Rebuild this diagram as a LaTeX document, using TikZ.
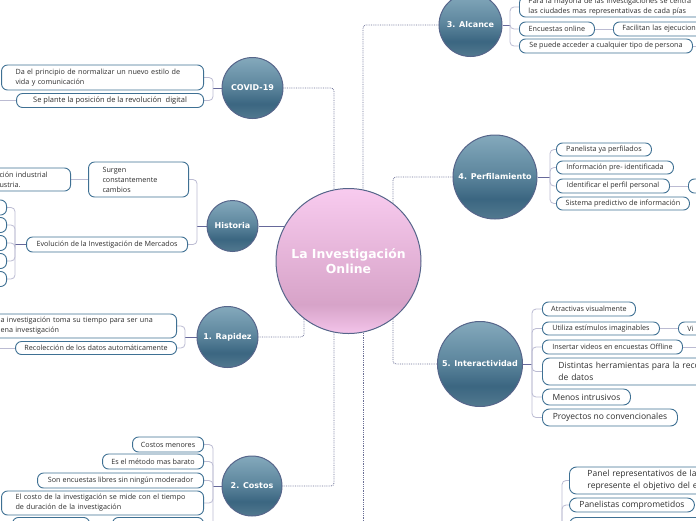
\documentclass[tikz,border=0pt]{standalone}
\usepackage{fontspec}
\setmainfont{Open Sans}
\newfontfamily\topicfont{DejaVu Sans}
\usetikzlibrary{backgrounds}
\definecolor{boxblue}{HTML}{3E7093}
\definecolor{txt}{HTML}{2E2E2E}
\definecolor{stemc}{HTML}{66689A}
\definecolor{branchc}{HTML}{BBBBD2}
\definecolor{dotc}{HTML}{6B7096}
\definecolor{tborder}{HTML}{56658A}
\definecolor{ttop}{HTML}{84A9BC}
\definecolor{tmid}{HTML}{5E879E}
\definecolor{tdark}{HTML}{3B6681}
\definecolor{tbot}{HTML}{52798F}
\definecolor{ctop}{HTML}{F8CBEF}
\definecolor{cdark}{HTML}{D7A3C8}
\definecolor{cbot}{HTML}{F4C4EA}
\pgfdeclareverticalshading{topicshade}{100bp}{color(0bp)=(tbot); color(25bp)=(tbot); color(37bp)=(tdark); color(52bp)=(tmid); color(75bp)=(ttop); color(100bp)=(ttop)}
\pgfdeclareverticalshading{centershade}{100bp}{color(0bp)=(cbot); color(25bp)=(cbot); color(35bp)=(cdark); color(75bp)=(ctop); color(100bp)=(ctop)}
\begin{document}
\begin{tikzpicture}[x=1pt,y=-1pt,
  leaf/.style={draw=boxblue, fill=white, rounded corners=6, line width=0.9, text=txt,
    font=\fontsize{7.2}{10}\selectfont, inner xsep=2, inner ysep=1, minimum height=14},
  bigleaf/.style={leaf, font=\fontsize{8.5}{12}\selectfont, rounded corners=7},
  mleaf/.style={leaf, align=left},
  topic/.style={circle, draw=tborder, line width=1, shading=topicshade, text=white,
    font=\topicfont\bfseries\fontsize{8}{9.5}\selectfont, inner sep=0},
  centre/.style={circle, draw=tborder, line width=1, shading=centershade, text=white,
    font=\topicfont\bfseries\fontsize{12.4}{14.5}\selectfont, align=center, inner sep=0},
  stem/.style={draw=stemc, line width=0.8},
  branch/.style={draw=branchc, line width=0.8, rounded corners=4},
  dotline/.style={draw=dotc, line width=0.8, densely dotted, rounded corners=3}]
\useasboundingbox (0,0) rectangle (696,520);

% central and topic nodes
\node[centre, minimum size=145] (center) at (348.5,261) {La Investigación\\Online};
\node[topic, minimum size=61] (covid) at (252.5,88) {COVID-19};
\node[topic, minimum size=51] (hist) at (232.5,226) {Historia};
\node[topic, minimum size=61] (rap) at (227.5,337) {1. Rapidez};
\node[topic, minimum size=60] (cost) at (252,486) {2. Costos};
\node[topic, minimum size=63] (alc) at (470.5,25) {3. Alcance};
\node[topic, minimum size=84] (perf) at (495,177) {4. Perfilamiento};
\node[topic, minimum size=85] (inter) at (480,364) {5. Interactividad};

% COVID-19
\node[mleaf, anchor=east, inner xsep=14, text width=174, minimum height=25] (cv1) at (204,77.5)
  {Da el principio de normalizar un nuevo estilo de\\vida y comunicación};
\node[leaf, anchor=east, minimum width=187, font=\fontsize{7.5}{9}\selectfont] (cv2) at (204,100.5)
  {Se plante la posición de la revolución\ \ digital};
\coordinate (cvj) at (213,88);
\coordinate (cvx) at (-5,100.5);

% Historia
\node[mleaf, anchor=east, inner xsep=14, text width=72, minimum height=35] (h1) at (189,179.5)
  {Surgen\\constantemente\\cambios};
\node[mleaf, anchor=east, inner xsep=11, text width=60, minimum height=23] (h0) at (71,179.5)
  {ción industrial\\ustria.};
\node[leaf, anchor=east, minimum width=161, minimum height=15] (h2) at (188,244.5)
  {Evolución de la Investigación de Mercados};
\foreach \i/\y in {1/207.5,2/225,3/243,4/261,5/279}{
  \node[leaf, anchor=east, minimum width=40, minimum height=15] (s\i) at (7,\y) {};
}
\coordinate (hj) at (197,226);
\coordinate (evj) at (15,244.5);

% Rapidez
\node[mleaf, anchor=east, inner xsep=12, text width=164, minimum height=24] (r1) at (177,326)
  {a investigación toma su tiempo para ser una\\ena investigación};
\node[leaf, anchor=east, minimum width=161, minimum height=13] (r2) at (177,348)
  {Recolección de los datos automáticamente};
\coordinate (rj) at (185,337);
\coordinate (rx) at (-5,348);

% Costos
\node[leaf, anchor=east, minimum width=71, minimum height=15] (co1) at (204,444.5) {Costos menores};
\node[leaf, anchor=east, minimum width=101, minimum height=15] (co2) at (204,461.5) {Es el método mas barato};
\node[leaf, anchor=east, minimum width=166, minimum height=15] (co3) at (204,480.5) {Son encuestas libres sin ningún moderador};
\node[mleaf, anchor=east, inner xsep=14, text width=174, minimum height=24] (co4) at (204,503)
  {El costo de la investigación se mide con el tiempo\\de duración de la investigación};
\node[leaf, anchor=north east, minimum width=91, minimum height=24] (co6) at (204,517) {};
\node[leaf, anchor=north east, minimum width=77, minimum height=24] (co5) at (90,517) {};
\coordinate (coj) at (213,486);

% Alcance
\node[mleaf, anchor=west, inner xsep=9, text width=200, minimum height=20] (a1) at (519,7)
  {Para la mayoría de las investigaciones se centra\\las ciudades mas representativas de cada pías};
\node[leaf, anchor=west, minimum width=75] (a2) at (519,29) {Encuestas online};
\node[mleaf, anchor=west, inner xsep=9, text width=90] (a3) at (613,29) {Facilitan las ejecucion};
\node[leaf, anchor=west, minimum width=173] (a4) at (519,46) {Se puede acceder a cualquier tipo de persona};
\coordinate (aj) at (510,25);
\coordinate (ax) at (705,46);

% Perfilamiento
\node[leaf, anchor=west, minimum width=95, minimum height=13] (p1) at (556,149.5) {Panelista ya perfilados};
\node[leaf, anchor=west, minimum width=117, minimum height=13] (p2) at (556,167.5) {Información pre- identificada};
\node[leaf, anchor=west, minimum width=113] (p3) at (556,186) {Identificar el perfil personal};
\node[leaf, anchor=west, minimum width=40] (p3b) at (688,186) {};
\node[leaf, anchor=west, minimum width=133, minimum height=13] (p4) at (556,203.5) {Sistema predictivo de información};
\coordinate (pj) at (550,177);

% Interactividad
\node[leaf, anchor=west, minimum width=93] (i1) at (542,309) {Atractivas visualmente};
\node[leaf, anchor=west, minimum width=117, minimum height=13] (i2) at (542,328.5) {Utiliza estímulos imaginables};
\node[mleaf, anchor=west, inner xsep=9, text width=40, minimum height=13] (i2b) at (678,328.5) {Vi};
\node[leaf, anchor=west, minimum width=140] (i3) at (542,347) {Insertar videos en encuestas Offline};
\node[bigleaf, align=left, anchor=west, inner xsep=16, text width=180, minimum height=27] (i4) at (542,371.5)
  {Distintas herramientas para la reco\\de datos};
\node[bigleaf, anchor=west, minimum width=88, minimum height=16] (i5) at (542,397) {Menos intrusivos};
\node[bigleaf, anchor=west, minimum width=135, minimum height=17] (i6) at (542,417.5) {Proyectos no convencionales};
\coordinate (ij) at (532,364);
\coordinate (ix) at (705,347);

% bottom-right branch
\node[bigleaf, align=left, anchor=west, inner xsep=18, text width=160, minimum height=27] (b1) at (569,480.5)
  {Panel representativos de la\\represente el objetivo del es};
\node[bigleaf, anchor=west, minimum width=125, minimum height=14] (b2) at (569,505) {Panelistas comprometidos};
\node[bigleaf, anchor=north west, minimum width=140, minimum height=20] (b3) at (569,517) {};
\coordinate (bj) at (562,535);
\coordinate (btm) at (363,535);

\begin{pgfonlayer}{background}
  % connectors from the centre
  \draw[dotline] (covid.east) -| ([xshift=-14.5pt]center.center);
  \draw[dotline] (alc.west) -| ([xshift=14.5pt]center.center);
  \draw[dotline] (perf.west) -| ([xshift=44.5pt]center.center);
  \draw[stem] (hist.east) -- (hist.east -| center.center);
  \draw[dotline] (rap.east) -| ([xshift=-44.5pt]center.center);
  \draw[dotline] (cost.east) -| ([xshift=-14.5pt]center.center);
  \draw[dotline] (inter.west) -| ([xshift=44.5pt]center.center);
  \draw[dotline] ([xshift=14.5pt]center.center) -- (btm);
  % COVID-19
  \draw[stem] (covid.west) -- (cvj);
  \foreach \n in {cv1,cv2} \draw[branch] (cvj) |- (\n.east);
  \draw[branch] (cv2.west) -- (cvx);
  % Historia
  \draw[stem] (hist.west) -- (hj);
  \foreach \n in {h1,h2} \draw[branch] (hj) |- (\n.east);
  \draw[branch] (h1.west) -- (h0.east);
  \draw[stem] (h2.west) -- (evj);
  \foreach \n in {s1,s2,s3,s4,s5} \draw[branch] (evj) |- (\n.east);
  % Rapidez
  \draw[stem] (rap.west) -- (rj);
  \foreach \n in {r1,r2} \draw[branch] (rj) |- (\n.east);
  \draw[branch] (r2.west) -- (rx);
  % Costos
  \draw[stem] (cost.west) -- (coj);
  \foreach \n in {co1,co2,co3,co4,co6} \draw[branch] (coj) |- (\n.east);
  \draw[branch] (co5.east) -- (co6.west);
  % Alcance
  \draw[stem] (alc.east) -- (aj);
  \foreach \n in {a1,a2,a4} \draw[branch] (aj) |- (\n.west);
  \draw[branch] (a2.east) -- (a3.west);
  \draw[branch] (a4.east) -- (ax);
  % Perfilamiento
  \draw[stem] (perf.east) -- (pj);
  \foreach \n in {p1,p2,p3,p4} \draw[branch] (pj) |- (\n.west);
  \draw[branch] (p3.east) -- (p3b.west);
  % Interactividad
  \draw[stem] (inter.east) -- (ij);
  \foreach \n in {i1,i2,i3,i4,i5,i6} \draw[branch] (ij) |- (\n.west);
  \draw[branch] (i2.east) -- (i2b.west);
  \draw[branch] (i3.east) -- (ix);
  % bottom-right
  \foreach \n in {b1,b2,b3} \draw[branch] (bj) |- (\n.west);
\end{pgfonlayer}
\end{tikzpicture}
\end{document}
